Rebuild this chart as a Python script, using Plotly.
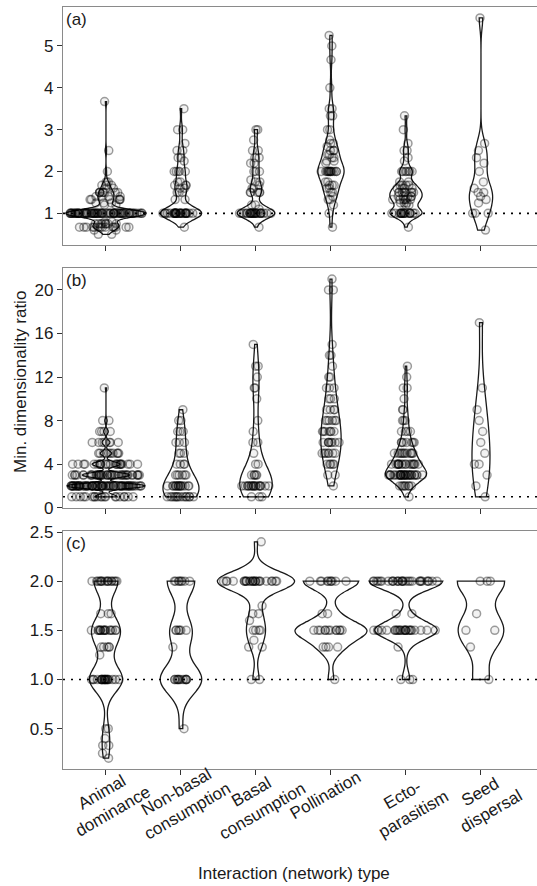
import plotly.graph_objects as go
from plotly.subplots import make_subplots

CATEGORIES = ["Animal dominance", "Non-basal consumption", "Basal consumption",
              "Pollination", "Ecto-parasitism", "Seed dispersal"]
CATEGORY_LABELS = ["Animal<br>dominance", "Non-basal<br>consumption", "Basal<br>consumption",
                   "Pollination", "Ecto-<br>parasitism", "Seed<br>dispersal"]

# ---------------- panel (a) ----------------
A_ANIMAL_V = [0.5, 0.6, 0.67, 0.75, 0.8, 1, 1.2, 1.25, 1.33, 1.4, 1.5, 1.6, 1.67, 1.75, 2, 2.5, 3.67]
A_ANIMAL_N = [2, 2, 14, 8, 2, 70, 2, 3, 6, 4, 8, 2, 3, 2, 1, 1, 1]
A_NONBASAL_V = [0.67, 1, 1.33, 1.5, 1.6, 1.67, 1.75, 2, 2.25, 2.33, 2.5, 2.67, 3, 3.5]
A_NONBASAL_N = [1, 30, 2, 3, 2, 3, 2, 5, 1, 2, 2, 1, 2, 1]
A_BASAL_V = [0.67, 1, 1.1, 1.2, 1.5, 1.6, 1.67, 1.75, 1.8, 2, 2.2, 2.33, 2.5, 2.75, 3]
A_BASAL_N = [1, 25, 1, 2, 5, 2, 1, 2, 1, 3, 2, 2, 2, 1, 2]
A_POLL_V = [0.67, 1, 1.2, 1.33, 1.4, 1.5, 1.6, 1.67, 1.75, 2, 2.2, 2.25, 2.33, 2.4, 2.5,
            2.6, 2.67, 2.75, 3, 3.33, 3.5, 4, 4.67, 5, 5.25]
A_POLL_N = [1, 1, 1, 2, 1, 2, 2, 3, 2, 14, 1, 2, 2, 2, 3, 1, 2, 1, 2, 2, 2, 1, 1, 1, 1]
A_ECTO_V = [0.67, 1, 1.2, 1.25, 1.33, 1.4, 1.5, 1.6, 1.67, 1.75, 2, 2.25, 2.33, 2.5, 2.67, 3, 3.33]
A_ECTO_N = [1, 18, 2, 3, 6, 5, 8, 4, 4, 2, 7, 1, 1, 2, 1, 1, 1]
A_SEED_V = [0.6, 1, 1.25, 1.33, 1.4, 1.5, 1.6, 1.75, 2, 2.2, 2.33, 2.5, 2.67, 5.67]
A_SEED_N = [1, 3, 1, 1, 1, 2, 1, 1, 1, 1, 1, 1, 1, 1]

# ---------------- panel (b) ----------------
B_ANIMAL_V = [1, 2, 3, 4, 5, 6, 7, 8, 11]
B_ANIMAL_N = [20, 70, 42, 25, 10, 7, 4, 2, 1]
B_NONBASAL_V = [1, 2, 3, 4, 5, 6, 7, 8, 9]
B_NONBASAL_N = [14, 16, 6, 4, 3, 3, 3, 2, 1]
B_BASAL_V = [1, 2, 3, 4, 5, 6, 7, 8, 10, 11, 12, 13, 15]
B_BASAL_N = [3, 18, 5, 2, 1, 2, 1, 1, 1, 2, 1, 2, 1]
B_POLL_V = [2, 3, 4, 5, 6, 7, 8, 9, 10, 11, 12, 13, 14, 15, 20, 21]
B_POLL_N = [1, 2, 5, 7, 8, 7, 6, 4, 3, 3, 2, 1, 2, 1, 2, 1]
B_ECTO_V = [1, 2, 3, 4, 5, 6, 7, 8, 9, 10, 11, 12, 13]
B_ECTO_N = [1, 8, 30, 18, 12, 7, 4, 3, 2, 1, 2, 1, 1]
B_SEED_V = [1, 2, 3, 4, 5, 6, 7, 8, 9, 11, 17]
B_SEED_N = [1, 1, 1, 2, 1, 1, 1, 1, 1, 1, 1]

# ---------------- panel (c) ----------------
C_ANIMAL_V = [0.2, 0.25, 0.33, 0.4, 0.5, 1.0, 1.25, 1.33, 1.5, 1.67, 2.0]
C_ANIMAL_N = [1, 1, 2, 1, 2, 22, 1, 5, 16, 3, 16]
C_NONBASAL_V = [0.5, 1.0, 1.33, 1.5, 2.0]
C_NONBASAL_N = [1, 12, 1, 6, 8]
C_BASAL_V = [1.0, 1.33, 1.4, 1.5, 1.6, 1.67, 1.75, 2.0, 2.4]
C_BASAL_N = [2, 2, 1, 4, 1, 2, 1, 25, 1]
C_POLL_V = [1.0, 1.33, 1.5, 1.67, 2.0]
C_POLL_N = [1, 4, 12, 2, 10]
C_ECTO_V = [1.0, 1.33, 1.5, 1.67, 2.0]
C_ECTO_N = [3, 1, 25, 2, 30]
C_SEED_V = [1.0, 1.33, 1.5, 1.67, 2.0]
C_SEED_N = [1, 1, 2, 1, 3]

PANELS = [
    [(A_ANIMAL_V, A_ANIMAL_N), (A_NONBASAL_V, A_NONBASAL_N), (A_BASAL_V, A_BASAL_N),
     (A_POLL_V, A_POLL_N), (A_ECTO_V, A_ECTO_N), (A_SEED_V, A_SEED_N)],
    [(B_ANIMAL_V, B_ANIMAL_N), (B_NONBASAL_V, B_NONBASAL_N), (B_BASAL_V, B_BASAL_N),
     (B_POLL_V, B_POLL_N), (B_ECTO_V, B_ECTO_N), (B_SEED_V, B_SEED_N)],
    [(C_ANIMAL_V, C_ANIMAL_N), (C_NONBASAL_V, C_NONBASAL_N), (C_BASAL_V, C_BASAL_N),
     (C_POLL_V, C_POLL_N), (C_ECTO_V, C_ECTO_N), (C_SEED_V, C_SEED_N)],
]
PANEL_TAGS = ["(a)", "(b)", "(c)"]

# style: violin widths (category units) and kernel bandwidths
WIDTHS = [
    [1.07, 0.55, 0.50, 0.35, 0.43, 0.31],
    [1.04, 0.48, 0.43, 0.27, 0.55, 0.24],
    [0.44, 0.55, 1.03, 0.96, 0.98, 0.63],
]
BANDWIDTHS = [
    [0.09, 0.15, 0.13, 0.2, 0.12, 0.25],
    [0.22, None, None, None, 0.6, None],
    [0.13, 0.15, 0.1, 0.09, 0.09, 0.14],
]
Y_RANGES = [[0.245, 5.93], [0, 22], [0.09, 2.51]]
Y_TICKS = [[1, 2, 3, 4, 5], [0, 4, 8, 12, 16, 20], [0.5, 1.0, 1.5, 2.0, 2.5]]
Y_TICKTEXT = [["1", "2", "3", "4", "5"], ["0", "4", "8", "12", "16", "20"],
              ["0.5", "1.0", "1.5", "2.0", "2.5"]]
Y_DOMAINS = [[0.6877, 1.0], [0.3429, 0.6572], [0.0, 0.3123]]
X_RANGE = [-0.573, 5.747]

FONT = "Liberation Sans, Arial, Helvetica, sans-serif"

fig = make_subplots(rows=3, cols=1)

for p, panel in enumerate(PANELS):
    for i, (vals, counts) in enumerate(panel):
        y = [v for v, n in zip(vals, counts) for _ in range(n)]
        kw = {}
        if BANDWIDTHS[p][i] is not None:
            kw["bandwidth"] = BANDWIDTHS[p][i]
        fig.add_trace(go.Violin(
            x=[CATEGORIES[i]] * len(y), y=y,
            width=WIDTHS[p][i], scalemode="width", spanmode="hard",
            points="all", pointpos=0, jitter=0.9,
            fillcolor="rgba(0,0,0,0)",
            line=dict(color="#1a1a1a", width=1.3),
            marker=dict(symbol="circle", size=8, color="rgba(0,0,0,0.05)",
                        line=dict(color="rgba(0,0,0,0.38)", width=1.5)),
            box_visible=False, meanline_visible=False,
            hoverinfo="skip", showlegend=False, **kw,
        ), row=p + 1, col=1)
    fig.add_hline(y=1, row=p + 1, col=1,
                  line=dict(color="black", width=1.6, dash="2px,6px"))

for p in range(3):
    xa = "xaxis" if p == 0 else f"xaxis{p + 1}"
    ya = "yaxis" if p == 0 else f"yaxis{p + 1}"
    fig.layout[xa].update(
        type="category", categoryorder="array", categoryarray=CATEGORIES,
        range=X_RANGE, domain=[0, 1], showticklabels=False,
        ticks="outside", ticklen=5, tickcolor="#333", tickwidth=1,
        showline=True, linecolor="#8a8a8a", linewidth=1.2, mirror=True,
        showgrid=False, zeroline=False)
    fig.layout[ya].update(
        range=Y_RANGES[p], domain=Y_DOMAINS[p],
        tickmode="array", tickvals=Y_TICKS[p], ticktext=Y_TICKTEXT[p],
        ticks="outside", ticklen=5, tickcolor="#333", tickwidth=1,
        showline=True, linecolor="#8a8a8a", linewidth=1.2,
        showgrid=False, zeroline=False,
        tickfont=dict(size=17, color="#1a1a1a", family=FONT))
    fig.add_annotation(text=PANEL_TAGS[p], xref=f"{'x' if p == 0 else 'x' + str(p + 1)} domain",
                       yref=f"{'y' if p == 0 else 'y' + str(p + 1)} domain",
                       x=0, y=1, xanchor="left", yanchor="top", xshift=1, yshift=-1,
                       showarrow=False, font=dict(size=17, color="#1a1a1a", family=FONT))

# category labels under bottom panel (rotated)
LABEL_DX = [2, 1, 1, -6, 2, 5]
LABEL_YC = [802, 802, 802, 795, 804, 802]
for i, lab in enumerate(CATEGORY_LABELS):
    fig.add_annotation(text=lab, xref="x3", yref="paper", x=i,
                       y=(769 - LABEL_YC[i]) / 762, xshift=LABEL_DX[i],
                       xanchor="center", yanchor="middle", textangle=-30,
                       showarrow=False, align="center",
                       font=dict(size=17, color="#1a1a1a", family=FONT))

fig.add_annotation(text="Interaction (network) type", xref="paper", yref="paper",
                   x=(294 - 63) / 474, y=(769 - 873) / 762, xanchor="center", yanchor="middle",
                   showarrow=False, font=dict(size=17, color="#1a1a1a", family=FONT))
fig.add_annotation(text="Min. dimensionality ratio", xref="paper", yref="paper",
                   x=(20 - 63) / 474, y=(769 - 382) / 762, xanchor="center", yanchor="middle",
                   textangle=-90, showarrow=False,
                   font=dict(size=17, color="#1a1a1a", family=FONT))

fig.update_layout(
    width=537, height=886,
    margin=dict(l=63, r=0, t=7, b=117),
    plot_bgcolor="white", paper_bgcolor="white",
    showlegend=False, violinmode="overlay",
    font=dict(family=FONT, size=17, color="#1a1a1a"),
)

fig.write_html("out.html", config={"displayModeBar": False},
               post_script="document.body.style.margin='0';document.body.style.padding='0';")
